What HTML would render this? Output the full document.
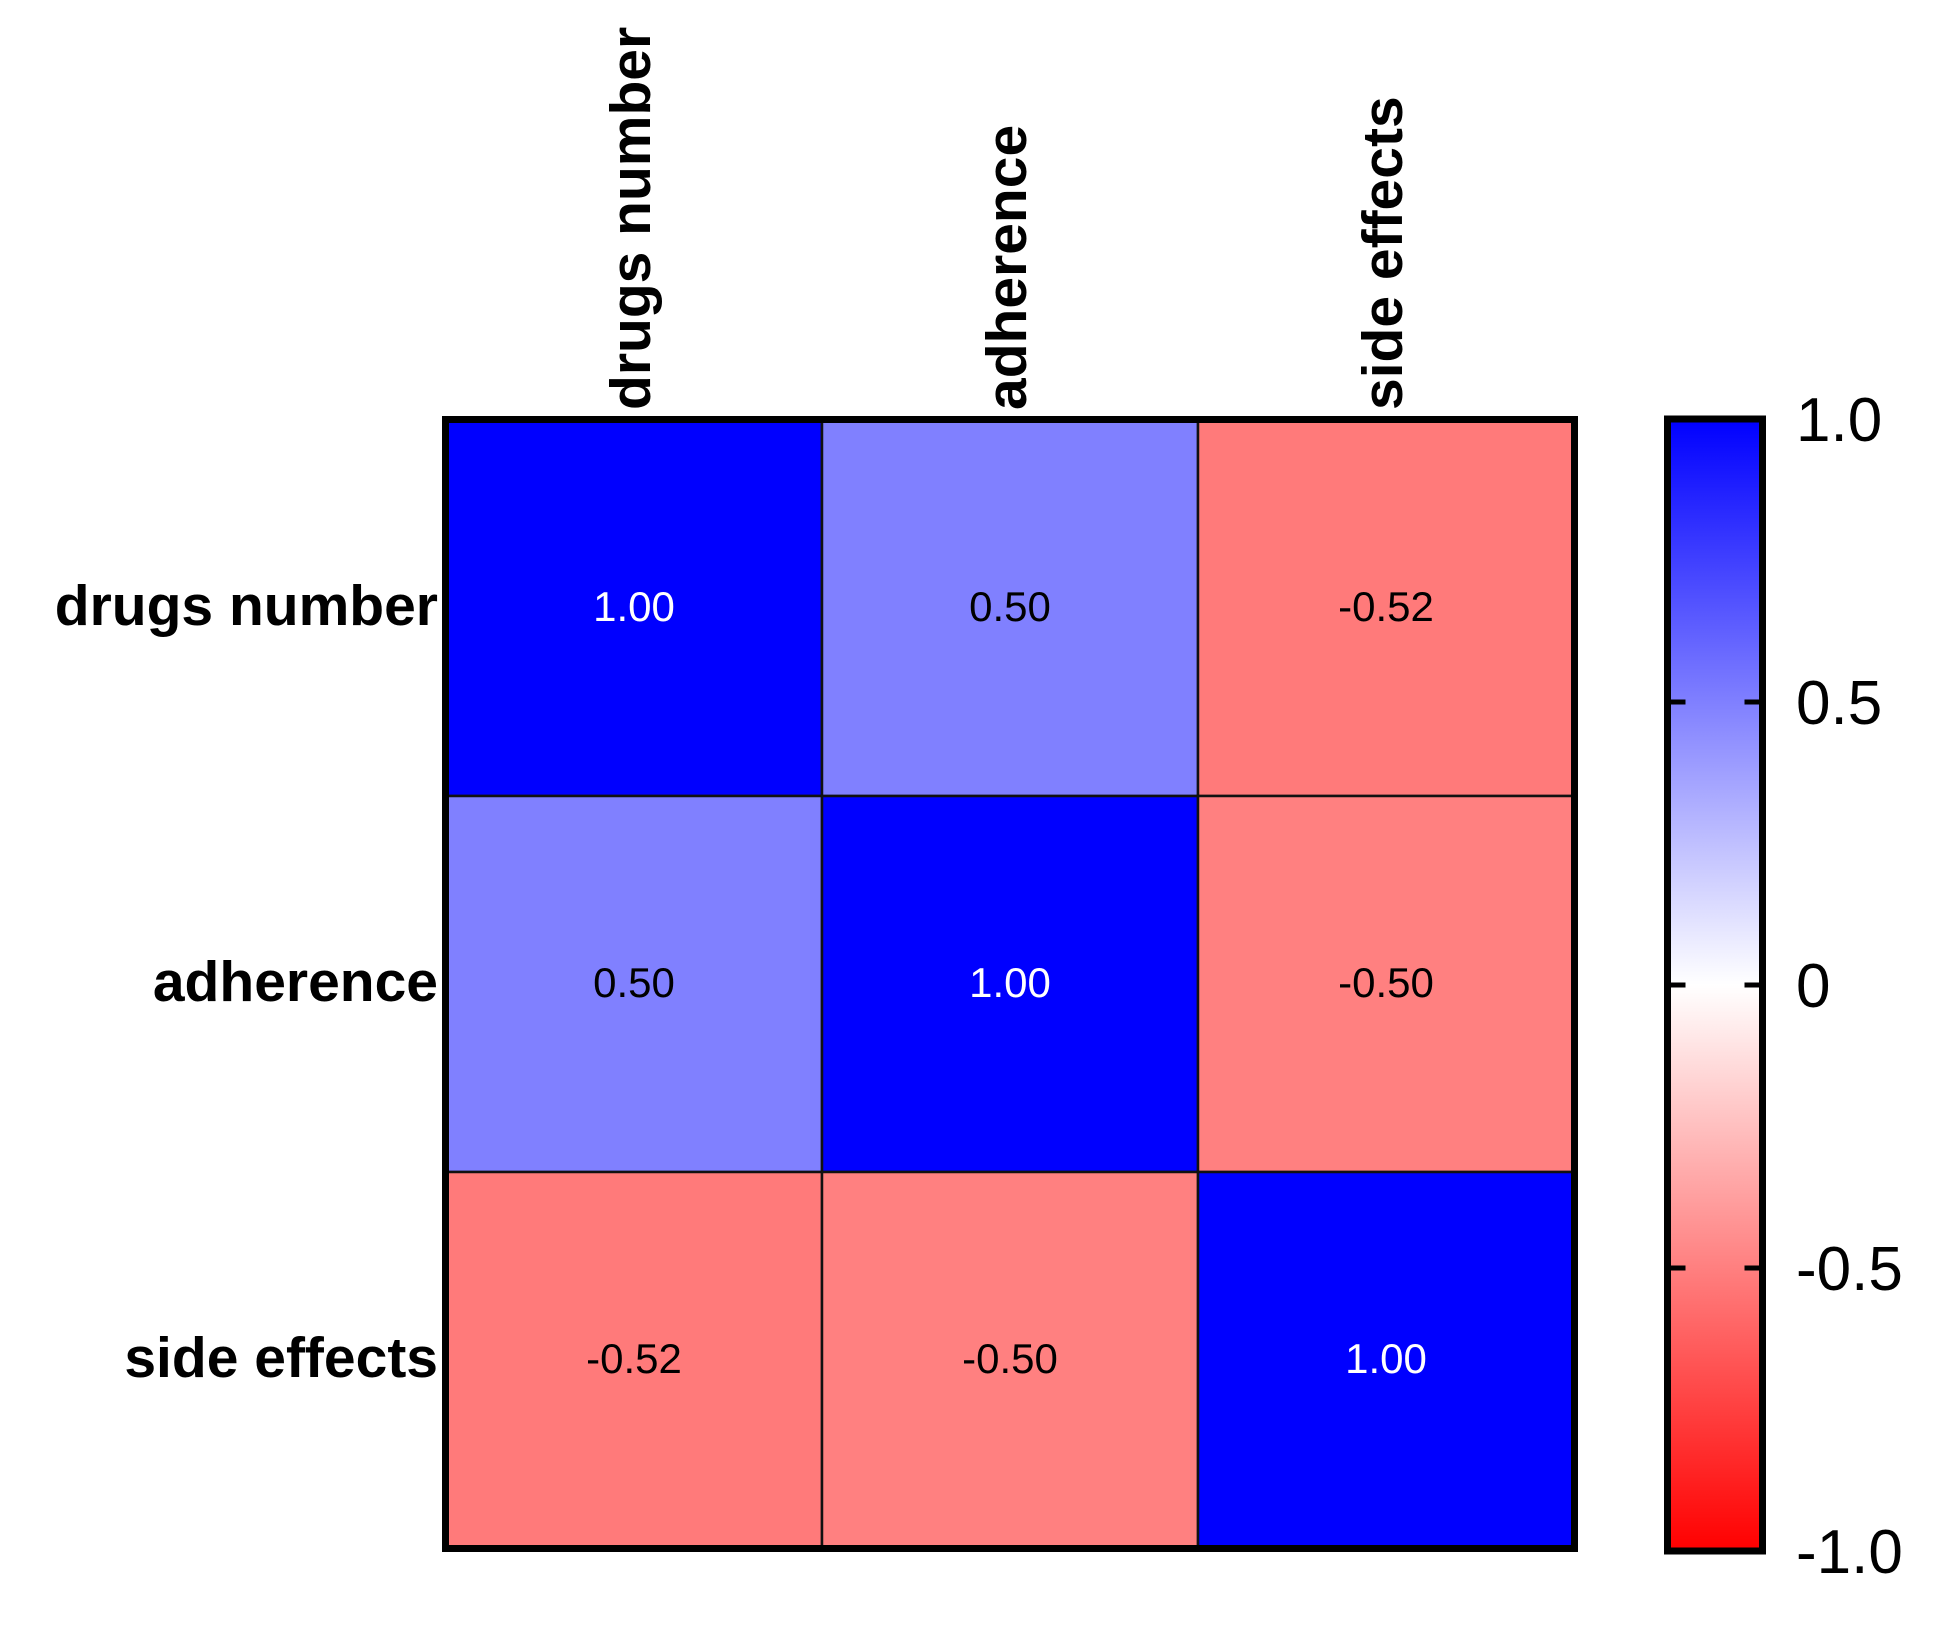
<!DOCTYPE html>
<html><head><meta charset="utf-8"><style>
html,body{margin:0;padding:0;background:#fff;}
svg{display:block;font-family:"Liberation Sans",Arial,sans-serif;}
</style></head><body>
<svg id="chart" width="1960" height="1637" viewBox="0 0 1960 1637" xmlns="http://www.w3.org/2000/svg">
<defs>
<linearGradient id="cbgrad" x1="0" y1="0" x2="0" y2="1">
<stop offset="0" stop-color="#0000ff"/>
<stop offset="0.5" stop-color="#ffffff"/>
<stop offset="1" stop-color="#ff0000"/>
</linearGradient>
</defs>
<g id="cells"></g>
<g id="labels"></g>
<g id="cbar"></g>
</svg>
<script>
const rowLabels = ["drugs number", "adherence", "side effects"];
const colLabels = ["drugs number", "adherence", "side effects"];
const row0 = [1.00, 0.50, -0.52];
const row1 = [0.50, 1.00, -0.50];
const row2 = [-0.52, -0.50, 1.00];
const matrix = [row0, row1, row2];
const cbTicks = [1.0, 0.5, 0, -0.5, -1.0];
const cbTickLabels = ["1.0", "0.5", "0", "-0.5", "-1.0"];

const NS = "http://www.w3.org/2000/svg";
const gx0 = 446, gy0 = 420, cell = 376;
function xPos(i){ return gx0 + i*cell; }
function yPos(j){ return gy0 + j*cell; }
function cbY(v){ return 985 - v*566; }
function color(v){
  v = Math.max(-1, Math.min(1, v));
  let r, g, b;
  if (v >= 0){ r = Math.round(255*(1-v)); g = r; b = 255; }
  else { r = 255; g = Math.round(255*(1+v)); b = g; }
  return `rgb(${r},${g},${b})`;
}
function mk(tag, attrs, parent){
  const e = document.createElementNS(NS, tag);
  for (const k in attrs) e.setAttribute(k, attrs[k]);
  parent.appendChild(e);
  return e;
}
const cells = document.getElementById("cells");
const labels = document.getElementById("labels");
const cbar = document.getElementById("cbar");

matrix.forEach((row, j) => {
  row.forEach((v, i) => {
    const r = mk("rect", {x: xPos(i), y: yPos(j), width: cell, height: cell, fill: color(v), stroke: "#111", "stroke-width": 2.5}, cells);
    
    
    const t = mk("text", {x: xPos(i) + cell/2, y: yPos(j) + cell/2 + 13, "text-anchor": "middle", "font-size": 42, fill: Math.abs(v) > 0.9 ? "#fff" : "#000"}, cells);
    t.textContent = v.toFixed(2);
    
    
  });
});
const border = mk("rect", {x: gx0 - 0.5, y: gy0 - 0.5, width: 3*cell + 1, height: 3*cell + 1, fill: "none", stroke: "#000", "stroke-width": 7}, cells);



rowLabels.forEach((s, j) => {
  const t = mk("text", {x: 438, y: yPos(j) + cell/2 + 17, "text-anchor": "end", "font-size": 57, "font-weight": "bold"}, labels);
  t.textContent = s;
  
  
});
colLabels.forEach((s, i) => {
  const cx = xPos(i) + cell/2 + 16;
  const t = mk("text", {x: cx, y: 410, "text-anchor": "start", "font-size": 57, "font-weight": "bold", transform: `rotate(-90 ${cx} 410)`}, labels);
  t.textContent = s;
  
  
});

const cbx = 1667.5, cbw = 95;
const cbRect = mk("rect", {x: cbx, y: cbY(1), width: cbw, height: cbY(-1) - cbY(1), fill: "url(#cbgrad)", stroke: "#000", "stroke-width": 7}, cbar);


cbTicks.forEach((v, k) => {
  const y = cbY(v);
  if (Math.abs(v) < 1){
    const l1 = mk("line", {x1: cbx, x2: cbx + 18, y1: y, y2: y, stroke: "#000", "stroke-width": 5}, cbar);
    
    
    const l2 = mk("line", {x1: cbx + cbw - 18, x2: cbx + cbw, y1: y, y2: y, stroke: "#000", "stroke-width": 5}, cbar);
    
    
  }
  const lx = 1796;
  const t = mk("text", {x: lx, y: y + 22, "font-size": 62}, cbar);
  t.textContent = cbTickLabels[k];
  
  
});
</script>
</body></html>
